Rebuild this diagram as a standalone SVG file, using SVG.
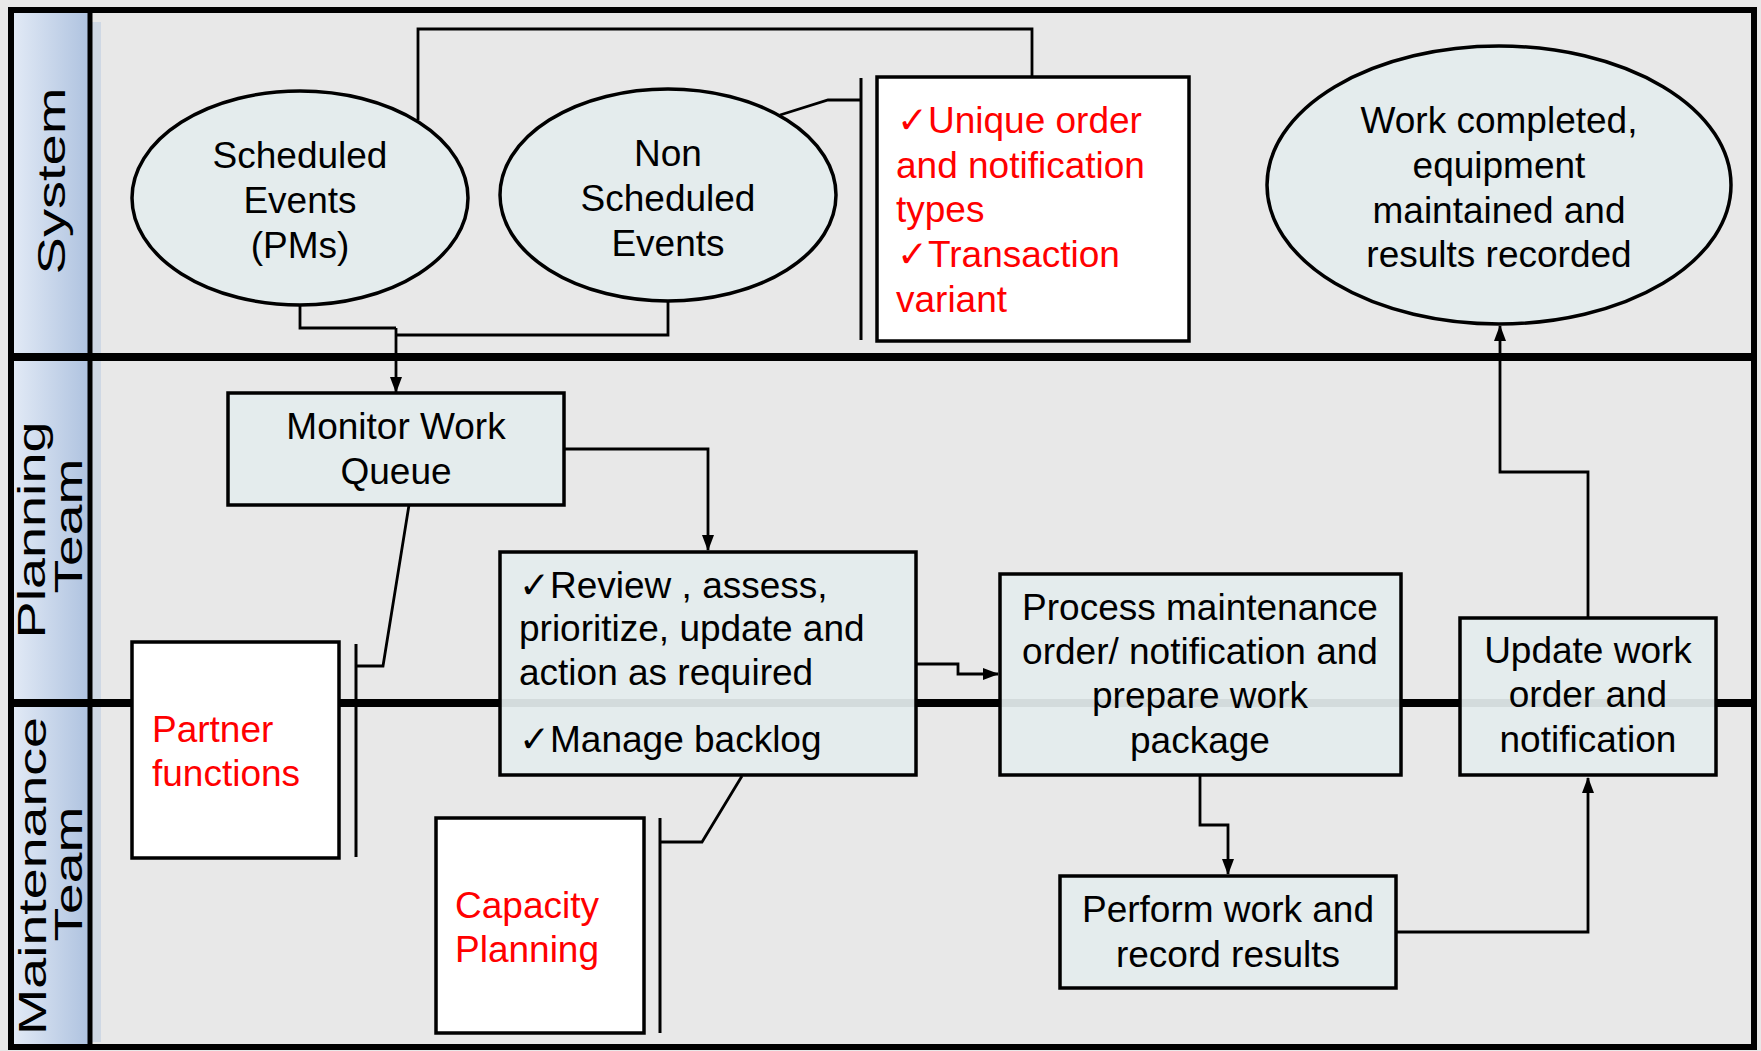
<svg xmlns="http://www.w3.org/2000/svg" width="1761" height="1051" viewBox="0 0 1761 1051">
<defs>
<linearGradient id="laneGrad" x1="0" y1="0" x2="1" y2="0">
<stop offset="0" stop-color="#e2eaf6"/>
<stop offset="1" stop-color="#aec2df"/>
</linearGradient>
<marker id="arr" markerWidth="16" markerHeight="14" refX="15" refY="7" orient="auto" markerUnits="userSpaceOnUse">
<path d="M0,1 L16,7 L0,13 Z" fill="#000"/>
</marker>
<style>
text{font-family:"Liberation Sans",Arial,"DejaVu Sans",sans-serif;font-size:37px;fill:#000}
.c{text-anchor:middle}
.red{fill:#ff0000}
.lane{font-size:39px;text-anchor:middle}
.node{fill:#e3eced;fill-opacity:0.93;stroke:#000;stroke-width:3.5}
.note{fill:#fff;stroke:#000;stroke-width:3.5}
.conn{fill:none;stroke:#000;stroke-width:2.8}
.div{stroke:#000;stroke-width:8}
.br{stroke:#000;stroke-width:3}
</style>
</defs>
<rect x="0" y="0" width="1761" height="1051" fill="#e8e8e8"/>
<g id="lanes">
<rect x="13" y="12" width="77" height="1034" fill="url(#laneGrad)"/>
<rect x="92" y="22" width="9" height="1020" fill="#b2c5e1" opacity="0.45"/>
<line class="div" x1="11" y1="357" x2="1754" y2="357"/>
<line class="div" x1="11" y1="703" x2="1754" y2="703"/>
<line x1="90" y1="10" x2="90" y2="1048" stroke="#000" stroke-width="5"/>
<rect x="11" y="10" width="1743" height="1037" fill="none" stroke="#000" stroke-width="6"/>
<text class="lane" transform="translate(65,181) rotate(-90)" textLength="187" lengthAdjust="spacingAndGlyphs">System</text>
<text class="lane" transform="translate(45,530) rotate(-90)" textLength="217" lengthAdjust="spacingAndGlyphs">Planning</text>
<text class="lane" transform="translate(82,526) rotate(-90)" textLength="135" lengthAdjust="spacingAndGlyphs">Team</text>
<text class="lane" transform="translate(46,876) rotate(-90)" textLength="318" lengthAdjust="spacingAndGlyphs">Maintenance</text>
<text class="lane" transform="translate(82,874) rotate(-90)" textLength="135" lengthAdjust="spacingAndGlyphs">Team</text>
</g>
<g id="connectors">
<polyline class="conn" points="418,120 418,29 1032,29 1032,77"/>
<polyline class="conn" points="300,305 300,328 396,328"/>
<polyline class="conn" points="668,302 668,335 396,335"/>
<polyline class="conn" points="396,328 396,392" marker-end="url(#arr)"/>
<polyline class="conn" points="780,115 828,100 861,100"/>
<line class="br" x1="861" y1="78" x2="861" y2="340"/>
<polyline class="conn" points="564,449 708,449 708,550" marker-end="url(#arr)"/>
<polyline class="conn" points="409,505 383,666 356,666"/>
<line class="br" x1="356" y1="644" x2="356" y2="857"/>
<polyline class="conn" points="742,776 702,842 660,842"/>
<line class="br" x1="660" y1="818" x2="660" y2="1033"/>
<polyline class="conn" points="917,664 958,664 958,674 998,674" marker-end="url(#arr)"/>
<polyline class="conn" points="1200,776 1200,825 1228,825 1228,874" marker-end="url(#arr)"/>
<polyline class="conn" points="1396,932 1588,932 1588,778" marker-end="url(#arr)"/>
<polyline class="conn" points="1588,618 1588,472 1500,472 1500,326" marker-end="url(#arr)"/>
</g>
<g id="scheduled-events">
<ellipse class="node" cx="300" cy="198" rx="168" ry="107"/>
<text class="c" x="300" y="168">Scheduled</text>
<text class="c" x="300" y="213">Events</text>
<text class="c" x="300" y="258">(PMs)</text>
</g>
<g id="non-scheduled-events">
<ellipse class="node" cx="668" cy="195" rx="168" ry="106"/>
<text class="c" x="668" y="166">Non</text>
<text class="c" x="668" y="211">Scheduled</text>
<text class="c" x="668" y="256">Events</text>
</g>
<g id="order-types-note">
<rect class="note" x="877" y="77" width="312" height="264"/>
<text class="red" x="897" y="133">✓Unique order</text>
<text class="red" x="896" y="178">and notification</text>
<text class="red" x="896" y="222">types</text>
<text class="red" x="897" y="267">✓Transaction</text>
<text class="red" x="896" y="312">variant</text>
</g>
<g id="work-completed">
<ellipse class="node" cx="1499" cy="185" rx="232" ry="139"/>
<text class="c" x="1499" y="133">Work completed,</text>
<text class="c" x="1499" y="178">equipment</text>
<text class="c" x="1499" y="223">maintained and</text>
<text class="c" x="1499" y="267">results recorded</text>
</g>
<g id="monitor-work-queue">
<rect class="node" x="228" y="393" width="336" height="112"/>
<text class="c" x="396" y="439">Monitor Work</text>
<text class="c" x="396" y="484">Queue</text>
</g>
<g id="review-assess">
<rect class="node" x="500" y="552" width="416" height="223"/>
<text x="519" y="598">✓Review , assess,</text>
<text x="519" y="641">prioritize, update and</text>
<text x="519" y="685">action as required</text>
<text x="519" y="752">✓Manage backlog</text>
</g>
<g id="partner-functions">
<rect class="note" x="132" y="642" width="207" height="216"/>
<text class="red" x="152" y="742">Partner</text>
<text class="red" x="152" y="786">functions</text>
</g>
<g id="capacity-planning">
<rect class="note" x="436" y="818" width="208" height="215"/>
<text class="red" x="455" y="918">Capacity</text>
<text class="red" x="455" y="962">Planning</text>
</g>
<g id="process-maintenance-order">
<rect class="node" x="1000" y="574" width="401" height="201"/>
<text class="c" x="1200" y="620">Process maintenance</text>
<text class="c" x="1200" y="664">order/ notification and</text>
<text class="c" x="1200" y="708">prepare work</text>
<text class="c" x="1200" y="753">package</text>
</g>
<g id="update-work-order">
<rect class="node" x="1460" y="618" width="256" height="157"/>
<text class="c" x="1588" y="663">Update work</text>
<text class="c" x="1588" y="707">order and</text>
<text class="c" x="1588" y="752">notification</text>
</g>
<g id="perform-work">
<rect class="node" x="1060" y="876" width="336" height="112"/>
<text class="c" x="1228" y="922">Perform work and</text>
<text class="c" x="1228" y="967">record results</text>
</g>
</svg>
